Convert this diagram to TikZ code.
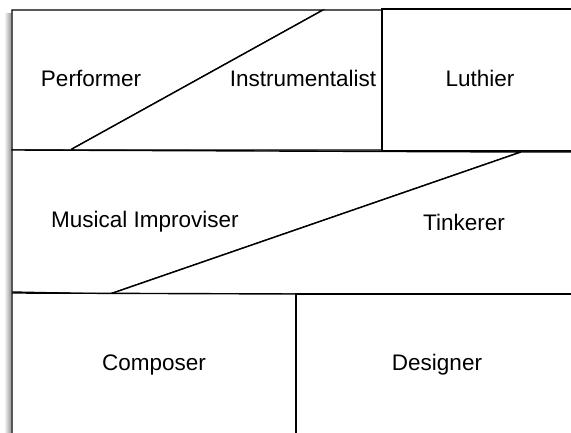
\documentclass[tikz,border=0pt]{standalone}
\usepackage{fontspec}
\setmainfont{Liberation Sans}
\begin{document}
\begin{tikzpicture}[x=1pt,y=-1pt,
  region/.style={draw=black,line width=1.4pt,fill=white,line join=miter},
  lbl/.style={inner sep=0pt,anchor=base,font=\fontsize{22.5}{26}\selectfont}]
\useasboundingbox (0,0) rectangle (571,433);
% left shadow
\shade[left color=white,right color=black!40] (4,14) rectangle (11,433);
% row 1
\draw[region] (12,10) -- (323,10) -- (72,149) -- (72,150) -- (12,150) -- cycle;
\draw[region] (323,10) -- (382,10) -- (382,150) -- (72,150) -- (72,149) -- cycle;
\draw[region] (382,9) -- (575,9) -- (575,151) -- (382,151) -- cycle;
% row 2
\draw[region] (12,150) -- (521,152) -- (110,294) -- (12,292) -- cycle;
\draw[region] (521,152) -- (575,152) -- (575,294) -- (110,294) -- cycle;
% row 3
\draw[region] (12,293) -- (296,294) -- (296,440) -- (12,440) -- cycle;
\draw[region] (296,294) -- (575,294) -- (575,440) -- (296,440) -- cycle;
% labels
\node[lbl] (performer) at (91,87) {Performer};
\node[lbl] (instr) at (303,87) {Instrumentalist};
\node[lbl] (luthier) at (480,87) {Luthier};
\node[lbl] (improviser) at (145,228) {Musical Improviser};
\node[lbl] (tinkerer) at (464,231) {Tinkerer};
\node[lbl] (composer) at (154,370) {Composer};
\node[lbl] (designer) at (437,370) {Designer};
\end{tikzpicture}
\end{document}
